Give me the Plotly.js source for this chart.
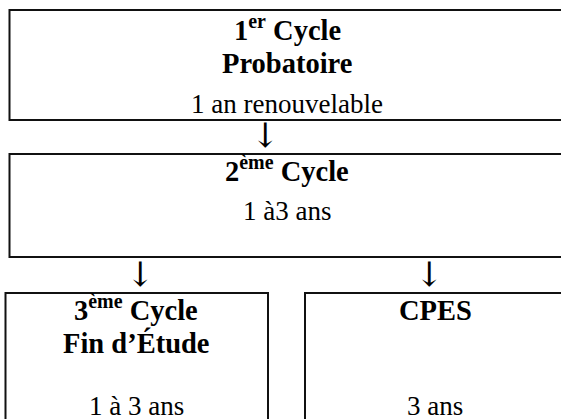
<!DOCTYPE html>
<html>
<head>
<meta charset="utf-8">
<script src="https://cdn.plot.ly/plotly-3.0.1.min.js"></script>
<style>html,body{margin:0;padding:0;background:#fff;}#chart{width:561px;height:419px;}</style>
</head>
<body>
<div id="chart"></div>
<script>
// ---- data (diagram content) ----
var boxTitles = ["1<sup>er</sup> Cycle", "2<sup>ème</sup> Cycle", "3<sup>ème</sup> Cycle", "CPES"];
var boxSubtitles = ["Probatoire", "", "Fin d’Étude", ""];
var boxDurations = ["1 an renouvelable", "1 à3 ans", "1 à 3 ans", "3 ans"];
var arrowLabels = ["↓", "↓", "↓"];

// ---- geometry (layout only) ----
var W = 561, H = 419;
var boxes = [
  {x0: 9.5, x1: 566, y0: 10, y1: 120, cx: 287, titleY: 42, subY: 75, durY: 113},
  {x0: 9.5, x1: 566, y0: 154, y1: 257, cx: 287, titleY: 183, subY: null, durY: 220},
  {x0: 5.5, x1: 268, y0: 293, y1: 430, cx: 136, titleY: 322, subY: 355, durY: 415},
  {x0: 305, x1: 566, y0: 293, y1: 430, cx: 435, titleY: 322, subY: null, durY: 415}
];
var arrows = [{x: 265, y: 135}, {x: 140, y: 274}, {x: 429, y: 274}];

var serif = "Liberation Serif";
var boldSize = 28.5, regSize = 27;
var shapes = [], ann = [];
function baseAnn(text, x, baseline, size, bold, hasSup) {
  return {
    x: x, y: baseline - size * (hasSup ? 0.5 : (bold ? 0.41 : 0.34)), xref: "x", yref: "y",
    text: bold ? "<b>" + text + "</b>" : text,
    showarrow: false, xanchor: "center", yanchor: "middle",
    font: {family: serif, size: size, color: "#000"}
  };
}
boxes.forEach(function (b, i) {
  shapes.push({type: "rect", xref: "x", yref: "y", x0: b.x0, x1: b.x1, y0: b.y0, y1: b.y1,
    line: {color: "#111", width: 2}, fillcolor: "rgba(0,0,0,0)"});
  ann.push(baseAnn(boxTitles[i], b.cx, b.titleY, boldSize, true, boxTitles[i].indexOf("<sup>") >= 0));
  if (boxSubtitles[i]) ann.push(baseAnn(boxSubtitles[i], b.cx, b.subY, boldSize, true, false));
  ann.push(baseAnn(boxDurations[i], b.cx, b.durY, regSize, false, false));
});
arrows.forEach(function (a, i) {
  ann.push({x: a.x, y: a.y, xref: "x", yref: "y", text: arrowLabels[i], showarrow: false,
    xanchor: "center", yanchor: "middle", font: {family: "DejaVu Serif, Liberation Serif, serif", size: 34, color: "#000"}});
});

var layout = {
  width: W, height: H,
  margin: {l: 0, r: 0, t: 0, b: 0, pad: 0},
  paper_bgcolor: "#fff", plot_bgcolor: "#fff",
  showlegend: false,
  xaxis: {range: [0, W], visible: false, fixedrange: true},
  yaxis: {range: [H, 0], visible: false, fixedrange: true},
  shapes: shapes, annotations: ann
};
Plotly.newPlot("chart", [{x: [], y: [], type: "scatter", mode: "markers", hoverinfo: "skip"}], layout, {displayModeBar: false, staticPlot: true});
</script>
</body>
</html>
